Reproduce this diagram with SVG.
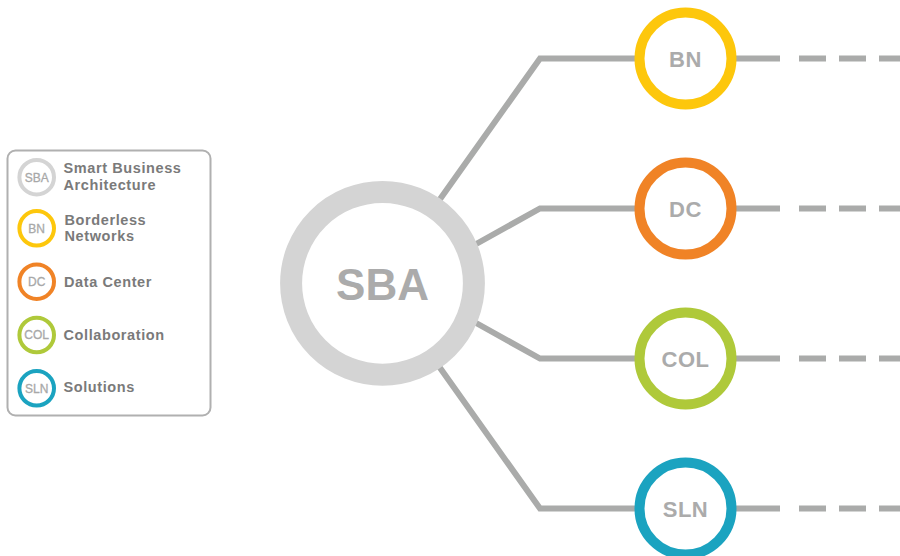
<svg xmlns="http://www.w3.org/2000/svg" width="900" height="556" viewBox="0 0 900 556">
  <style>
    .conn { fill: none; stroke: #aaabaa; stroke-width: 6; stroke-linejoin: miter; }
    .dash { fill: none; stroke: #aaabaa; stroke-width: 6; stroke-dasharray: 27 13; }
    .ring { fill: #ffffff; stroke-width: 10; }
    .lring { fill: #ffffff; stroke-width: 4; }
    .nlabel { font-family: "Liberation Sans", Arial, sans-serif; font-weight: bold; font-size: 22px; fill: #ababab; text-anchor: middle; letter-spacing: 0.5px; }
    .llabel { font-family: "Liberation Sans", Arial, sans-serif; font-size: 12px; fill: #a8a8a8; stroke: #a8a8a8; stroke-width: 0.3; text-anchor: middle; }
    .ltext { font-family: "Liberation Sans", Arial, sans-serif; font-weight: bold; font-size: 14.5px; fill: #7a7a7a; letter-spacing: 0.6px; }
    .sba { stroke: #d4d4d4; }
    .bn { stroke: #fdc70c; }
    .dc { stroke: #f08326; }
    .col { stroke: #afc93a; }
    .sln { stroke: #1ba3c0; }
  </style>

  <g id="connectors">
    <polyline class="conn" points="430,213.2 540,58.5 690,58.5"/>
    <polyline class="conn" points="460,253 540,208.5 690,208.5"/>
    <polyline class="conn" points="460,314 540,358.5 690,358.5"/>
    <polyline class="conn" points="430,353.8 540,508.5 690,508.5"/>
    <line class="conn" x1="690" y1="58.5" x2="780" y2="58.5"/>
    <line class="conn" x1="690" y1="208.5" x2="780" y2="208.5"/>
    <line class="conn" x1="690" y1="358.5" x2="780" y2="358.5"/>
    <line class="conn" x1="690" y1="508.5" x2="780" y2="508.5"/>
    <line class="dash" x1="799" y1="58.5" x2="910" y2="58.5"/>
    <line class="dash" x1="799" y1="208.5" x2="910" y2="208.5"/>
    <line class="dash" x1="799" y1="358.5" x2="910" y2="358.5"/>
    <line class="dash" x1="799" y1="508.5" x2="910" y2="508.5"/>
  </g>

  <g id="node-sba">
    <circle cx="382.5" cy="283.3" r="91.4" fill="#ffffff" stroke="#d4d4d4" stroke-width="22"/>
    <text x="382.5" y="300" font-family="'Liberation Sans', Arial, sans-serif" font-weight="bold" font-size="44" fill="#ababab" text-anchor="middle">SBA</text>
  </g>

  <g id="node-bn">
    <circle class="ring bn" cx="685.5" cy="58.5" r="46"/>
    <text class="nlabel" x="685.5" y="66.5">BN</text>
  </g>
  <g id="node-dc">
    <circle class="ring dc" cx="685.5" cy="208.5" r="46"/>
    <text class="nlabel" x="685.5" y="216.5">DC</text>
  </g>
  <g id="node-col">
    <circle class="ring col" cx="685.5" cy="358.5" r="46"/>
    <text class="nlabel" x="685.5" y="366.5">COL</text>
  </g>
  <g id="node-sln">
    <circle class="ring sln" cx="685.5" cy="508.5" r="46"/>
    <text class="nlabel" x="685.5" y="516.5">SLN</text>
  </g>

  <g id="legend">
    <rect x="7.5" y="150.5" width="203" height="265" rx="8" ry="8" fill="#ffffff" stroke="#b0b0b0" stroke-width="2"/>
    <g id="legend-sba">
      <circle class="lring sba" cx="36.7" cy="177.2" r="17.3"/>
      <text class="llabel" x="36.7" y="182.2">SBA</text>
      <text class="ltext" x="63.5" y="173.3">Smart Business</text>
      <text class="ltext" x="63.5" y="190">Architecture</text>
    </g>
    <g id="legend-bn">
      <circle class="lring bn" cx="36.7" cy="228.3" r="17.3"/>
      <text class="llabel" x="36.7" y="232.6">BN</text>
      <text class="ltext" x="64.5" y="225">Borderless</text>
      <text class="ltext" x="64.5" y="241">Networks</text>
    </g>
    <g id="legend-dc">
      <circle class="lring dc" cx="36.7" cy="281.7" r="17.3"/>
      <text class="llabel" x="36.7" y="286">DC</text>
      <text class="ltext" x="64" y="287">Data Center</text>
    </g>
    <g id="legend-col">
      <circle class="lring col" cx="36.7" cy="335" r="17.3"/>
      <text class="llabel" x="36.7" y="339.3">COL</text>
      <text class="ltext" x="63.5" y="339.5">Collaboration</text>
    </g>
    <g id="legend-sln">
      <circle class="lring sln" cx="36.7" cy="388.3" r="17.3"/>
      <text class="llabel" x="36.7" y="392.6">SLN</text>
      <text class="ltext" x="63.5" y="392">Solutions</text>
    </g>
  </g>
</svg>
